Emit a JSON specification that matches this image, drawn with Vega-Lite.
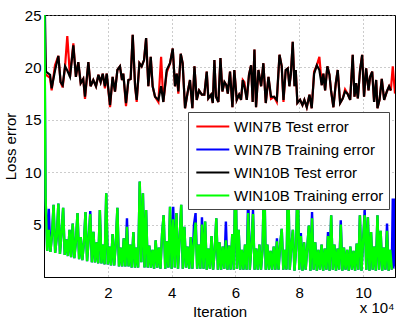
{
  "$schema": "https://vega.github.io/schema/vega-lite/v6.json",
  "width": 351,
  "height": 262,
  "autosize": {"type": "none"},
  "padding": {"left": 44, "top": 15, "right": 18, "bottom": 46},
  "config": {
    "font": "Liberation Sans",
    "view": {"stroke": "black", "strokeWidth": 1},
    "axis": {"domainColor": "black", "ticks": false, "grid": true, "gridDash": [1, 3], "gridColor": "#999999", "labelFont": "Liberation Sans", "titleFont": "Liberation Sans", "labelFontSize": 15, "titleFontSize": 15, "titleFontWeight": "normal", "labelColor": "black", "titleColor": "black"}
  },
  "datasets": {
    "test": [
      {"i":300,"k":25,"r":19.2},{"i":600,"k":19.6,"r":19.3},{"i":1900,"k":19.3,"r":19.0},{"i":2400,"k":18.0,"r":17.8},{"i":3450,"k":19.7,"r":20.2},{"i":4500,"k":21.1,"r":21.1},{"i":5200,"k":18.6,"r":18.6},{"i":5850,"k":18.3,"r":18.1},{"i":6600,"k":20.1,"r":20.1},{"i":7300,"k":19.7,"r":23.0},{"i":8150,"k":19.1,"r":19.1},{"i":9200,"k":22.1,"r":22.3},{"i":10000,"k":19.1,"r":19.1},{"i":10750,"k":20.5,"r":20.5},{"i":11500,"k":18.5,"r":18.5},{"i":12300,"k":18.9,"r":18.9},{"i":12850,"k":17.2,"r":17.0},{"i":13900,"k":20.5,"r":20.5},{"i":14600,"k":18.2,"r":18.2},{"i":15450,"k":18.8,"r":18.8},{"i":16300,"k":18.2,"r":18.2},{"i":17050,"k":19.3,"r":19.3},{"i":17750,"k":18.6,"r":18.6},{"i":18400,"k":19.4,"r":19.4},{"i":19100,"k":18.2,"r":18.0},{"i":19650,"k":19.4,"r":19.4},{"i":20700,"k":16.4,"r":16.2},{"i":21500,"k":19.1,"r":19.1},{"i":22250,"k":17.7,"r":17.7},{"i":23000,"k":19.75,"r":19.75},{"i":23800,"k":20.1,"r":20.1},{"i":24450,"k":18.8,"r":18.8},{"i":24850,"k":19.4,"r":19.4},{"i":25700,"k":16.6,"r":16.3},{"i":26450,"k":18.8,"r":18.8},{"i":27150,"k":18.9,"r":18.9},{"i":27800,"k":23.1,"r":23.1},{"i":28550,"k":18.2,"r":18.2},{"i":29050,"k":16.9,"r":16.7},{"i":29900,"k":20.4,"r":20.4},{"i":30600,"k":20.1,"r":20.1},{"i":31350,"k":20.7,"r":20.7},{"i":32000,"k":22.8,"r":22.8},{"i":32700,"k":18.2,"r":18.2},{"i":33450,"k":21.0,"r":21.0},{"i":34050,"k":18.2,"r":18.2},{"i":34800,"k":17.2,"r":17.2},{"i":35850,"k":16.9,"r":16.7},
      {"i":36700,"k":18.2,"r":21.0},{"i":37400,"k":16.7,"r":16.7},{"i":38450,"k":19.75,"r":19.5},{"i":39500,"k":20.4,"r":20.4},{"i":40350,"k":21.8,"r":21.8},{"i":41050,"k":18.2,"r":18.2},{"i":41600,"k":19.4,"r":19.4},{"i":42100,"k":17.7,"r":17.5},{"i":42850,"k":21.3,"r":21.3},{"i":43450,"k":20.4,"r":20.4},{"i":44200,"k":16.1,"r":16.1},{"i":44950,"k":17.5,"r":17.5},{"i":45750,"k":18.8,"r":18.8},{"i":46500,"k":16.1,"r":16.1},{"i":47150,"k":20.1,"r":20.1},{"i":47850,"k":16.9,"r":16.9},{"i":48600,"k":17.8,"r":17.8},{"i":49450,"k":17.4,"r":17.4},{"i":50250,"k":17.4,"r":17.4},{"i":51000,"k":19.6,"r":19.6},{"i":51500,"k":17.05,"r":17.05},{"i":52350,"k":17.4,"r":17.4},{"i":52900,"k":16.6,"r":16.6},{"i":53400,"k":20.7,"r":20.7},{"i":53900,"k":17.2,"r":17.2},{"i":54650,"k":16.7,"r":16.7},{"i":55300,"k":20.9,"r":20.9},{"i":55900,"k":17.7,"r":17.7},{"i":56550,"k":18.6,"r":18.6},{"i":57150,"k":18.3,"r":18.3},{"i":57600,"k":17.5,"r":17.5},{"i":58300,"k":19.6,"r":19.6},{"i":59050,"k":16.2,"r":16.2},{"i":59650,"k":19.75,"r":19.75},{"i":60400,"k":16.9,"r":16.9},{"i":61150,"k":17.4,"r":17.4},{"i":61750,"k":16.9,"r":16.9},{"i":62300,"k":18.8,"r":18.8},{"i":62800,"k":18.2,"r":18.6},{"i":63550,"k":16.9,"r":16.9},{"i":64250,"k":19.3,"r":19.3},{"i":64900,"k":20.2,"r":20.2},{"i":65400,"k":16.7,"r":16.7},{"i":65950,"k":21.7,"r":21.7},{"i":66450,"k":16.2,"r":16.2},{"i":67200,"k":19.75,"r":19.75},{"i":68050,"k":18.2,"r":18.2},{"i":68750,"k":20.4,"r":20.4},{"i":69500,"k":16.6,"r":16.6},{"i":70350,"k":19.1,"r":19.1},{"i":71150,"k":17.2,"r":17.0},
      {"i":72100,"k":17.2,"r":17.2},{"i":72950,"k":16.9,"r":16.7},{"i":73800,"k":21.2,"r":21.2},{"i":74500,"k":20.1,"r":20.1},{"i":75050,"k":16.9,"r":16.7},{"i":75750,"k":19.75,"r":19.75},{"i":76400,"k":19.9,"r":19.9},{"i":76900,"k":18.2,"r":18.2},{"i":77350,"k":19.3,"r":19.3},{"i":77950,"k":22.45,"r":22.45},{"i":78500,"k":18.2,"r":18.2},{"i":78900,"k":19.75,"r":19.75},{"i":79400,"k":16.6,"r":16.6},{"i":80250,"k":16.9,"r":16.9},{"i":81000,"k":16.4,"r":16.4},{"i":81600,"k":16.9,"r":16.9},{"i":82350,"k":16.2,"r":16.2},{"i":83200,"k":17.4,"r":17.4},{"i":83900,"k":16.1,"r":16.1},{"i":84650,"k":19.4,"r":19.6},{"i":85500,"k":20.2,"r":20.2},{"i":86300,"k":19.75,"r":21.0},{"i":87050,"k":18.3,"r":18.3},{"i":87550,"k":19.4,"r":19.4},{"i":88100,"k":17.8,"r":17.8},{"i":88800,"k":20.1,"r":20.1},{"i":89450,"k":19.3,"r":19.3},{"i":89950,"k":17.8,"r":17.8},{"i":90700,"k":16.2,"r":16.2},{"i":91450,"k":18.5,"r":18.5},{"i":92050,"k":19.75,"r":19.75},{"i":92800,"k":16.6,"r":16.6},{"i":93650,"k":17.05,"r":17.05},{"i":94350,"k":17.7,"r":17.9},{"i":95100,"k":17.5,"r":17.5},{"i":95950,"k":16.9,"r":16.9},{"i":96750,"k":21.2,"r":21.2},{"i":97300,"k":17.2,"r":17.2},{"i":97800,"k":18.5,"r":18.5},{"i":98350,"k":17.05,"r":17.05},{"i":99050,"k":19.75,"r":19.75},{"i":99700,"k":21.2,"r":21.2},{"i":100300,"k":17.2,"r":17.2},{"i":100950,"k":19.9,"r":19.9},{"i":101700,"k":17.8,"r":17.8},{"i":102200,"k":19.1,"r":19.1},{"i":102850,"k":19.6,"r":19.6},{"i":103450,"k":16.7,"r":16.7},{"i":104100,"k":18.8,"r":18.8},{"i":104500,"k":16.1,"r":16.1},{"i":105150,"k":16.9,"r":16.9},{"i":105850,"k":18.9,"r":18.9},{"i":106600,"k":16.9,"r":16.9},{"i":107450,"k":17.7,"r":17.7},{"i":108150,"k":18.2,"r":18.2},{"i":108700,"k":17.8,"r":17.8},{"i":109300,"r":20.1},{"i":110000,"r":17.5}
    ],
    "train": [
      {"i":100,"g":25.5,"b":25.5},{"i":500,"g":7.5,"b":7.5},{"i":1000,"g":2.5,"b":2.5},{"i":1500,"g":4.5,"b":6.5},{"i":2000,"g":2.4,"b":2.4},{"i":2500,"g":4.0,"b":4.0},{"i":3000,"g":6.9,"b":6.9},{"i":3500,"g":2.3,"b":2.3},{"i":4000,"g":3.8,"b":3.8},{"i":4500,"g":7.0,"b":7.0},{"i":5000,"g":2.2,"b":2.2},{"i":5500,"g":4.2,"b":4.2},{"i":6000,"g":6.6,"b":6.6},{"i":6500,"g":2.1,"b":2.1},{"i":7000,"g":3.6,"b":3.6},{"i":7500,"g":2.0,"b":2.0},{"i":8000,"g":4.5,"b":4.5},{"i":8500,"g":1.9,"b":1.9},{"i":9000,"g":5.1,"b":5.1},{"i":9500,"g":1.8,"b":1.8},{"i":10000,"g":3.4,"b":3.4},{"i":10500,"g":6.1,"b":6.1},{"i":11000,"g":1.7,"b":1.7},{"i":11500,"g":3.8,"b":3.8},{"i":12000,"g":1.6,"b":1.6},{"i":12500,"g":3.2,"b":3.2},{"i":13000,"g":6.2,"b":6.2},{"i":13500,"g":1.5,"b":1.5},{"i":14000,"g":3.6,"b":3.6},{"i":14500,"g":6.0,"b":6.3},{"i":15000,"g":1.4,"b":1.4},{"i":15500,"g":4.3,"b":4.3},{"i":16000,"g":1.4,"b":1.4},{"i":16500,"g":3.3,"b":3.3},{"i":17000,"g":1.3,"b":1.3},{"i":17500,"g":6.4,"b":6.4},{"i":18000,"g":1.3,"b":1.3},{"i":18500,"g":3.1,"b":3.1},{"i":19000,"g":1.2,"b":1.2},{"i":19500,"g":8.0,"b":8.0},{"i":20000,"g":1.2,"b":1.2},{"i":20500,"g":2.9,"b":2.9},{"i":21000,"g":1.1,"b":1.1},{"i":21500,"g":4.1,"b":4.1},{"i":22000,"g":1.1,"b":1.1},{"i":22500,"g":3.2,"b":3.2},{"i":23000,"g":6.6,"b":6.6},{"i":23500,"g":1.0,"b":1.0},{"i":24000,"g":2.8,"b":2.8},{"i":24500,"g":1.0,"b":1.0},{"i":25000,"g":3.7,"b":3.7},{"i":25500,"g":1.0,"b":1.0},{"i":26000,"g":4.8,"b":5.6},{"i":26500,"g":1.0,"b":1.0},{"i":27000,"g":3.1,"b":3.1},{"i":27500,"g":0.9,"b":0.9},{"i":28000,"g":4.3,"b":4.3},{"i":28500,"g":0.9,"b":0.9},{"i":29000,"g":2.8,"b":2.8},{"i":29500,"g":0.9,"b":0.9},{"i":30000,"g":9.1,"b":9.1},{"i":30500,"g":1.4,"b":1.4},{"i":31000,"g":8.0,"b":8.0},{"i":31500,"g":0.9,"b":0.9},{"i":32000,"g":6.4,"b":6.4},{"i":32500,"g":0.9,"b":0.9},{"i":33000,"g":3.0,"b":3.0},{"i":33500,"g":0.9,"b":0.9},{"i":34000,"g":2.6,"b":2.6},{"i":34500,"g":0.8,"b":0.8},{"i":35000,"g":3.5,"b":3.5},{"i":35500,"g":0.9,"b":0.9},{"i":36000,"g":2.8,"b":2.8},{"i":36500,"g":0.8,"b":0.8},{"i":37000,"g":4.1,"b":4.1},{"i":37500,"g":5.9,"b":5.9},{"i":38000,"g":0.8,"b":0.8},{"i":38500,"g":3.4,"b":3.4},{"i":39000,"g":0.9,"b":0.9},{"i":39500,"g":6.7,"b":6.7},{"i":40000,"g":0.8,"b":0.8},{"i":40500,"g":5.5,"b":6.7},{"i":41000,"g":0.9,"b":0.9},{"i":41500,"g":6.1,"b":6.1},{"i":42000,"g":0.8,"b":0.8},{"i":42500,"g":3.6,"b":3.6},{"i":43000,"g":6.9,"b":6.9},{"i":43500,"g":0.8,"b":0.8},{"i":44000,"g":4.8,"b":4.8},{"i":44500,"g":0.9,"b":0.9},{"i":45000,"g":2.9,"b":2.9},{"i":45500,"g":0.8,"b":0.8},{"i":46000,"g":3.8,"b":3.8},{"i":46500,"g":0.8,"b":0.8},{"i":47000,"g":3.5,"b":5.0},{"i":47500,"g":5.2,"b":6.1},{"i":48000,"g":0.8,"b":0.8},{"i":48500,"g":3.1,"b":3.1},{"i":49000,"g":0.8,"b":0.8},{"i":49500,"g":5.0,"b":5.7},{"i":50000,"g":0.8,"b":0.8},{"i":50500,"g":5.3,"b":5.3},{"i":51000,"g":0.7,"b":0.7},{"i":51500,"g":2.7,"b":2.7},{"i":52000,"g":0.8,"b":0.8},{"i":52500,"g":3.9,"b":3.9},{"i":53000,"g":0.7,"b":0.7},{"i":53500,"g":2.5,"b":2.5},{"i":54000,"g":5.6,"b":5.6},{"i":54500,"g":0.7,"b":0.7},{"i":55000,"g":3.3,"b":3.3},{"i":55500,"g":0.7,"b":0.7},{"i":56000,"g":2.9,"b":2.9},{"i":56500,"g":0.8,"b":0.8},{"i":57000,"g":3.5,"b":5.3},{"i":57500,"g":0.7,"b":0.7},{"i":58000,"g":3.0,"b":3.0},{"i":58500,"g":0.7,"b":0.7},{"i":59000,"g":4.1,"b":4.1},{"i":59500,"g":0.7,"b":0.7},{"i":60000,"g":11.0,"b":11.0},{"i":60500,"g":0.8,"b":0.8},{"i":61000,"g":4.5,"b":4.5},{"i":61500,"g":0.7,"b":0.7},{"i":62000,"g":2.6,"b":2.6},{"i":62500,"g":0.7,"b":0.7},{"i":63000,"g":3.1,"b":3.1},{"i":63500,"g":0.7,"b":0.7},{"i":64000,"g":6.1,"b":8.0},{"i":64500,"g":0.7,"b":0.7},{"i":65000,"g":3.0,"b":3.0},{"i":65500,"g":6.0,"b":6.4},{"i":66000,"g":0.7,"b":0.7},{"i":66500,"g":2.7,"b":2.7},{"i":67000,"g":0.7,"b":0.7},{"i":67500,"g":3.1,"b":3.1},{"i":68000,"g":0.7,"b":0.7},{"i":68500,"g":2.6,"b":2.6},{"i":69000,"g":10.5,"b":10.5},{"i":69500,"g":0.7,"b":0.7},{"i":70000,"g":3.1,"b":3.1},{"i":70500,"g":0.7,"b":0.7},{"i":71000,"g":2.5,"b":2.5},{"i":71500,"g":0.7,"b":0.7},{"i":72000,"g":2.9,"b":2.9},{"i":72500,"g":0.7,"b":0.7},{"i":73000,"g":3.4,"b":3.7},{"i":73500,"g":0.7,"b":0.7},{"i":74000,"g":3.0,"b":3.0},{"i":74500,"g":4.6,"b":4.6},{"i":75000,"g":0.7,"b":0.7},{"i":75500,"g":2.6,"b":2.6},{"i":76000,"g":0.7,"b":0.7},{"i":76500,"g":10.5,"b":10.5},{"i":77000,"g":0.7,"b":0.7},{"i":77500,"g":2.9,"b":2.9},{"i":78000,"g":4.5,"b":4.5},{"i":78500,"g":0.6,"b":0.6},{"i":79000,"g":2.7,"b":2.7},{"i":79500,"g":10.0,"b":10.0},{"i":80000,"g":0.7,"b":0.7},{"i":80500,"g":3.9,"b":4.2},{"i":81000,"g":0.6,"b":0.6},{"i":81500,"g":3.3,"b":3.3},{"i":82000,"g":0.7,"b":0.7},{"i":82500,"g":2.8,"b":2.8},{"i":83000,"g":4.9,"b":4.9},{"i":83500,"g":0.6,"b":0.6},{"i":84000,"g":5.6,"b":6.2},{"i":84500,"g":0.7,"b":0.7},{"i":85000,"g":3.3,"b":3.3},{"i":85500,"g":0.6,"b":0.6},{"i":86000,"g":2.6,"b":2.6},{"i":86500,"g":0.7,"b":0.7},{"i":87000,"g":3.1,"b":3.1},{"i":87500,"g":0.6,"b":0.6},{"i":88000,"g":2.7,"b":2.7},{"i":88500,"g":0.7,"b":0.7},{"i":89000,"g":3.9,"b":4.3},{"i":89500,"g":0.6,"b":0.6},{"i":90000,"g":5.9,"b":5.9},{"i":90500,"g":0.7,"b":0.7},{"i":91000,"g":3.1,"b":3.1},{"i":91500,"g":0.6,"b":0.6},{"i":92000,"g":2.7,"b":2.7},{"i":92500,"g":0.7,"b":0.7},{"i":93000,"g":5.0,"b":5.4},{"i":93500,"g":0.6,"b":0.6},{"i":94000,"g":2.8,"b":2.8},{"i":94500,"g":0.7,"b":0.7},{"i":95000,"g":2.6,"b":2.6},{"i":95500,"g":0.6,"b":0.6},{"i":96000,"g":2.9,"b":2.9},{"i":96500,"g":0.7,"b":0.7},{"i":97000,"g":2.5,"b":2.5},{"i":97500,"g":0.6,"b":0.6},{"i":98000,"g":3.2,"b":3.2},{"i":98500,"g":0.7,"b":0.7},{"i":99000,"g":5.9,"b":5.9},{"i":99500,"g":0.6,"b":0.6},{"i":100000,"g":3.4,"b":3.4},{"i":100500,"g":5.9,"b":6.4},{"i":101000,"g":0.7,"b":0.7},{"i":101500,"g":5.7,"b":5.7},{"i":102000,"g":0.6,"b":0.6},{"i":102500,"g":4.3,"b":4.3},{"i":103000,"g":0.7,"b":0.7},{"i":103500,"g":2.9,"b":2.9},{"i":104000,"g":0.6,"b":0.6},{"i":104500,"g":5.9,"b":5.9},{"i":105000,"g":0.7,"b":0.7},{"i":105500,"g":4.4,"b":4.4},{"i":106000,"g":0.6,"b":0.6},{"i":106500,"g":2.8,"b":2.8},{"i":107000,"g":0.7,"b":0.7},{"i":107500,"g":4.4,"b":5.1},{"i":108000,"g":0.6,"b":0.6},{"i":108500,"g":2.6,"b":2.6},{"i":109000,"g":0.7,"b":0.7},{"i":109300,"b":7.5},{"i":109500,"b":0.8},{"i":109700,"b":7.5},{"i":109850,"b":1.0},{"i":110000,"b":7.0}
    ],
    "note": [{"i":104400,"y":-3.0,"t":"x 10⁴"}]
  },
  "encoding": {
    "x": {"field": "i", "type": "quantitative", "scale": {"domain": [0, 110000], "nice": false, "zero": false},
      "axis": {"title": "Iteration", "values": [20000, 40000, 60000, 80000, 100000], "labelExpr": "datum.value / 10000", "labelPadding": 8, "titlePadding": 4}}
  },
  "layer": [
    {"data": {"name": "test"}, "mark": {"type": "line", "strokeWidth": 2.2, "clip": true},
      "encoding": {"y": {"field": "r", "type": "quantitative", "scale": {"domain": [0, 25], "nice": false}, "axis": {"title": "Loss error", "values": [5, 10, 15, 20, 25], "labelPadding": 3, "titlePadding": 6}},
        "color": {"datum": "WIN7B Test error", "type": "nominal", "scale": {"domain": ["WIN7B Test error", "WIN7B Training error", "WIN10B Test error", "WIN10B Training error"], "range": ["#ff0000", "#0000ff", "#000000", "#00ff00"]},
          "legend": {"title": null, "orient": "none", "legendX": 144, "legendY": 97, "fillColor": "white", "strokeColor": "#444444", "padding": 5, "symbolType": "M-0.75,0H3.25", "symbolSize": 272, "symbolStrokeWidth": 2, "labelFontSize": 15, "labelFont": "Liberation Sans", "labelColor": "black", "labelOffset": 22, "rowPadding": 5, "labelLimit": 300}}}},
    {"data": {"name": "test"}, "mark": {"type": "line", "strokeWidth": 2.2, "clip": true},
      "encoding": {"y": {"field": "k", "type": "quantitative"}, "color": {"datum": "WIN10B Test error", "type": "nominal"}}},
    {"data": {"name": "train"}, "mark": {"type": "line", "strokeWidth": 2.4, "clip": true},
      "encoding": {"y": {"field": "b", "type": "quantitative"}, "color": {"datum": "WIN7B Training error", "type": "nominal"}}},
    {"data": {"name": "train"}, "mark": {"type": "line", "strokeWidth": 2.4, "clip": true},
      "encoding": {"y": {"field": "g", "type": "quantitative"}, "color": {"datum": "WIN10B Training error", "type": "nominal"}}},
    {"data": {"name": "note"}, "mark": {"type": "text", "fontSize": 15, "font": "Liberation Sans", "color": "black", "baseline": "middle", "align": "center"},
      "encoding": {"y": {"field": "y", "type": "quantitative"}, "text": {"field": "t"}}}
  ]
}
